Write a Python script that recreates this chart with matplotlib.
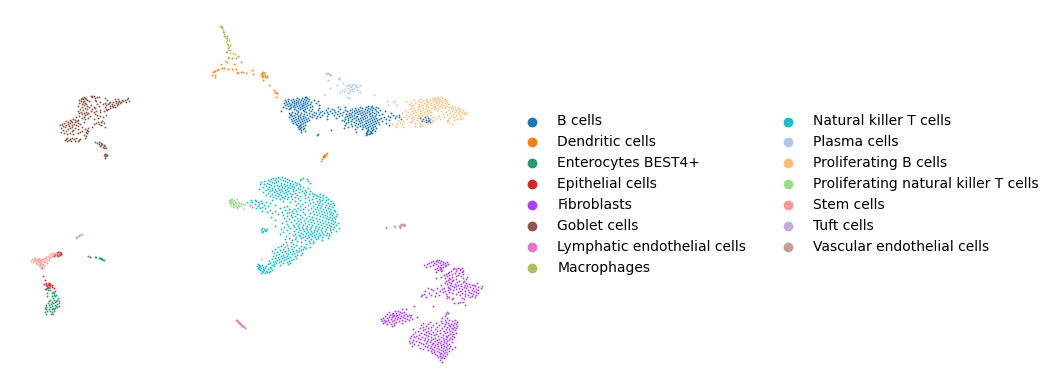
import matplotlib
matplotlib.use("Agg")
import matplotlib.pyplot as plt

b_cells = {
    97: [305, 306], 98: [297, 302, 307], 99: [288, 293, 299, 304, 309],
    100: [285, 291, 296, 301, 306, 314], 101: [288, 294, 298, 303, 308, 318],
    102: [286, 292, 296, 300, 305, 311], 103: [284, 289, 294, 298, 303, 307, 316],
    104: [287, 291, 296, 301, 305, 310], 105: [285, 290, 294, 299, 303, 308, 319],
    106: [288, 293, 297, 302, 306, 312, 368, 372],
    107: [283, 291, 295, 300, 304, 310, 338, 345, 360, 366, 371, 376],
    108: [286, 290, 298, 302, 307, 319, 328, 355, 362, 368, 373, 378],
    109: [289, 294, 300, 305, 312, 332, 340, 352, 358, 365, 370, 375],
    110: [296, 303, 309, 318, 326, 334, 345, 350, 356, 361, 367, 372, 380],
    111: [281, 298, 304, 311, 322, 330, 338, 347, 354, 359, 364, 369, 376, 385],
    112: [292, 298, 306, 314, 320, 327, 335, 343, 352, 357, 362, 367, 372, 378],
    113: [289, 295, 301, 309, 316, 324, 332, 340, 349, 355, 360, 365, 370, 374, 391],
    114: [291, 297, 304, 312, 319, 328, 337, 346, 351, 358, 363, 369, 376, 382],
    115: [290, 294, 300, 307, 314, 322, 334, 342, 349, 354, 361, 366, 372, 379, 393, 399],
    116: [292, 298, 303, 310, 317, 327, 339, 347, 352, 357, 364, 370, 375, 388, 396],
    117: [289, 295, 300, 305, 312, 320, 345, 350, 356, 362, 367, 373, 384, 390, 399, 425],
    118: [293, 298, 303, 308, 316, 336, 348, 354, 360, 365, 371, 376, 381, 395, 420, 428],
    119: [291, 296, 301, 306, 327, 345, 352, 358, 363, 369, 374, 379, 386, 401, 423, 430],
    120: [294, 299, 304, 309, 342, 348, 356, 361, 367, 372, 377, 389, 426, 429],
    121: [292, 297, 302, 307, 344, 351, 359, 365, 370, 375, 382, 422, 428],
    122: [295, 300, 305, 348, 354, 362, 368, 373, 378, 426, 430],
    123: [293, 298, 303, 346, 356, 360, 366, 371, 376, 386],
    124: [296, 301, 351, 358, 364, 369, 374, 379],
    125: [297, 300, 305, 345, 355, 362, 367, 372, 389],
    126: [299, 303, 352, 360, 365, 370, 375],
    127: [298, 301, 348, 357, 363, 368, 373],
    128: [300, 304, 344, 366, 371, 376],
    129: [299, 303, 355, 362, 368, 373],
    130: [301, 331, 368, 372],
    131: [305, 367, 370, 375],
    132: [301, 356, 367, 371],
    133: [366, 370, 372],
    134: [318, 367, 369],
    135: [317, 366],
}
dendritic_cells = {
    56: [238], 58: [228, 232, 236], 62: [227, 241], 64: [221, 234],
    68: [222, 224], 69: [218, 228, 232, 236], 70: [217, 252],
    71: [214, 215], 72: [213, 237, 241, 243, 263], 73: [238, 246, 262, 264],
    74: [253, 261], 75: [212, 215, 262, 265], 76: [263, 267],
    77: [215, 262, 265, 267], 80: [263], 85: [269], 90: [274],
    92: [275], 93: [276, 277], 97: [276], 153: [327], 154: [326],
    155: [324, 325], 156: [323, 325], 157: [323, 324], 159: [322], 161: [321],
}
enterocytes = {
    256: [88], 257: [95, 96], 258: [99, 100, 101], 259: [101, 102], 260: [103, 104],
    288: [49], 289: [45, 46], 290: [48, 50], 292: [53], 293: [47, 52, 54],
    295: [54, 56], 296: [47, 52, 55], 298: [53, 58], 300: [50, 54, 57],
    301: [49, 56, 59], 302: [52, 55], 303: [48, 53, 59], 304: [51, 57],
    305: [46, 49, 55], 306: [52, 56, 59], 307: [46, 50, 57],
    308: [45, 53, 55], 309: [46, 49, 52, 54], 311: [47, 50, 54], 312: [45, 52], 314: [46, 51, 53],
}
epithelial_cells = {
    252: [58, 60], 253: [57, 61], 254: [55, 59, 61], 255: [54, 57, 60],
    256: [54, 58], 257: [90], 268: [42], 276: [43], 280: [45],
    283: [46, 49], 284: [44, 48, 50], 285: [46, 49, 52], 286: [47, 50],
    287: [48, 52], 288: [47, 54], 291: [55],
}
fibroblasts = {
    260: [437, 439], 261: [433, 436, 441], 262: [431, 438, 443, 447],
    263: [429, 434, 440, 445], 264: [427, 436, 443, 448], 265: [424, 433, 441, 446],
    266: [430, 438, 445], 267: [426, 440, 443], 268: [437, 441, 454, 458, 462],
    269: [435, 440, 453, 456, 460], 270: [438, 442, 460], 271: [441, 451, 456, 463],
    272: [436, 449, 462], 273: [448, 455, 459], 274: [446, 452, 463],
    275: [444, 449, 458], 276: [447, 456, 461], 277: [441, 452, 467],
    278: [436, 445, 449, 463], 279: [450, 456, 466], 280: [448, 453],
    281: [446, 452, 459, 464], 282: [449, 457, 463], 283: [445, 451, 466, 477],
    284: [447, 455, 461, 469], 285: [441, 450, 458, 465, 472, 474],
    286: [452, 456, 461, 467, 475, 482], 287: [448, 454, 464, 470, 478],
    288: [428, 437, 444, 449, 459, 466, 473, 481], 289: [431, 442, 450, 456, 462, 476],
    290: [433, 448, 453, 468, 472, 478], 291: [425, 440, 445, 460, 465, 474],
    292: [443, 449, 458, 469, 476], 293: [429, 436, 452, 462, 471, 478],
    294: [424, 446, 456, 465, 473], 295: [422, 431, 439, 460, 468, 476],
    296: [421, 435, 447, 465, 472], 297: [426, 449, 470, 475],
    298: [447, 453, 462], 299: [452, 464], 302: [460, 463], 303: [454, 458],
    305: [465], 306: [433, 414], 309: [406, 402], 311: [395, 398],
    312: [389, 400, 404, 447], 313: [393, 396, 402, 448], 314: [387, 392, 399, 406, 446],
    315: [390, 394, 397, 404, 409, 411], 316: [385, 393, 396, 401, 407, 445],
    317: [389, 392, 398, 403, 410, 417], 318: [383, 387, 395, 400, 405, 442, 447],
    319: [381, 391, 397, 407, 412], 320: [384, 388, 394, 402, 409, 445, 449, 455],
    321: [382, 386, 392, 399, 405, 441, 452], 322: [385, 389, 396, 430, 446, 457],
    323: [383, 394, 402, 423, 436, 442, 448, 454], 324: [387, 391, 428, 445, 451, 456],
    325: [394, 421, 433, 439, 449, 453], 326: [392, 426, 444, 450, 457],
    327: [423, 431, 437, 447, 454], 328: [420, 428, 442, 452, 456],
    329: [413, 425, 435, 446, 449, 453], 330: [423, 431, 440, 455],
    331: [418, 428, 437, 444, 450], 332: [415, 426, 433, 447, 452],
    333: [421, 429, 440, 445, 456], 334: [413, 424, 431, 436, 450, 453],
    335: [419, 426, 434, 443, 448], 336: [411, 416, 428, 438, 446, 452],
    337: [414, 422, 431, 441, 447, 454], 338: [410, 418, 425, 435, 443, 450],
    339: [420, 428, 433, 439, 446, 452], 340: [413, 424, 431, 437, 444, 449],
    341: [409, 416, 427, 435, 441, 447], 342: [412, 419, 430, 438, 444, 452],
    343: [410, 421, 426, 433, 440, 446], 344: [414, 423, 432, 437, 443, 449],
    345: [418, 428, 435, 441, 447], 346: [412, 425, 431, 438, 444, 450],
    347: [427, 434, 441, 446, 455], 348: [420, 430, 437, 443, 449],
    349: [423, 432, 439, 447, 452], 350: [428, 434, 441, 445],
    351: [431, 437, 443, 449], 352: [434, 439, 446], 353: [432, 441, 444],
    354: [435, 440, 447], 355: [437, 443], 356: [440, 445], 357: [438, 442],
    358: [441, 444], 360: [440], 362: [442],
}
goblet_cells = {
    96: [91, 92, 94], 97: [84, 92, 97, 99], 98: [82, 85, 95, 105, 128], 99: [81, 83, 86, 115, 118, 127],
    100: [79, 87, 95, 107, 122, 125], 101: [81, 84, 89, 96, 116, 119, 123, 129],
    102: [83, 100, 110, 113, 118, 121, 126], 103: [79, 85, 105, 109, 116, 120],
    104: [82, 86, 97, 103, 108, 112, 118], 105: [84, 91, 106, 114, 117],
    106: [78, 87, 99, 110, 112], 107: [82, 89, 94, 105, 113, 115],
    108: [85, 95, 110], 109: [80, 87, 92, 106, 108], 110: [83, 100, 107],
    111: [78, 91, 96, 104], 112: [81, 86, 94, 100], 113: [79, 84, 88],
    114: [82, 87, 95], 115: [85, 97, 106], 116: [79, 90, 100],
    117: [76, 84, 103], 118: [82, 88, 98], 119: [73, 85, 94],
    120: [70, 75, 78], 121: [66, 71, 77, 102], 122: [68, 72, 75, 84, 98, 101],
    123: [64, 70, 78, 96, 104], 124: [62, 68, 74, 80, 94, 99], 125: [60, 66, 72, 76, 101],
    126: [63, 69, 78], 127: [65, 72, 82, 92, 105], 128: [61, 70, 75, 88],
    129: [68, 78, 85], 130: [63, 73, 87], 131: [66, 72, 82, 88], 132: [61, 80, 86],
    133: [64, 70, 78, 87], 134: [67, 73], 135: [84], 136: [86],
    138: [67, 72, 76, 85], 139: [66, 70, 74, 80], 140: [65, 69, 79], 141: [67, 71, 75, 78],
    142: [95, 99], 143: [97, 101], 144: [99, 102], 145: [101, 104], 146: [100, 105],
    147: [103], 148: [104, 106], 154: [105, 106], 155: [104, 107], 156: [105, 106], 158: [105],
}
lymphatic_cells = {
    320: [236, 237], 321: [237], 322: [238, 239], 323: [239, 240], 324: [240],
    325: [241, 242], 326: [242, 243], 327: [244], 328: [245],
}
macrophages = {
    26: [220, 221], 27: [221, 222], 28: [222], 30: [223], 32: [223, 224], 34: [224],
    36: [224, 225, 227], 38: [226, 227], 40: [227, 229], 42: [226], 44: [227],
    45: [228, 230], 47: [229], 48: [228], 50: [228, 230], 52: [226, 227],
    53: [230, 233], 54: [235], 57: [229], 61: [225],
}
nk_t_cells = {
    177: [278, 282], 178: [273, 276, 285, 303], 179: [271, 280, 287, 301, 307], 180: [268, 275, 283, 289, 300],
    181: [264, 270, 278, 285, 292, 308], 182: [261, 272, 276, 287, 295],
    183: [267, 274, 281, 290, 297, 310], 184: [260, 264, 269, 284, 293, 299],
    185: [271, 277, 281, 287, 290, 296], 186: [266, 274, 279, 285, 292, 300],
    187: [263, 269, 282, 288, 294, 303], 188: [272, 278, 284, 290, 298, 308],
    189: [259, 268, 275, 281, 287, 293, 300], 190: [266, 272, 279, 285, 296, 305],
    191: [270, 276, 282, 288, 293, 302, 310], 192: [263, 274, 280, 286, 299, 306],
    193: [268, 277, 284, 290, 295, 304, 312], 194: [272, 279, 287, 292, 309, 314, 320],
    195: [266, 275, 281, 297, 305, 316, 323], 196: [270, 278, 285, 291, 300, 313, 318],
    197: [273, 282, 288, 295, 308, 320, 326], 198: [276, 284, 298, 305, 316, 323],
    199: [280, 287, 292, 312, 319, 328], 200: [251, 255, 272, 300, 309, 322, 326],
    201: [256, 261, 283, 295, 317, 320, 331], 202: [247, 252, 258, 266, 290, 305, 313, 325],
    203: [262, 270, 298, 310, 319, 328, 333], 204: [255, 259, 302, 315, 322, 330],
    205: [250, 264, 275, 296, 308, 318, 326, 334], 206: [258, 268, 287, 300, 313, 321, 329],
    207: [252, 262, 284, 305, 317, 325, 332], 208: [256, 260, 265, 280, 298, 311, 320, 328],
    209: [289, 294, 303, 315, 323, 330], 210: [270, 285, 300, 308, 318, 326, 334],
    211: [262, 275, 292, 296, 313, 321, 329, 335], 212: [267, 282, 289, 303, 316, 324, 331],
    213: [272, 287, 293, 310, 319, 327, 333], 214: [278, 297, 305, 314, 322, 330, 337],
    215: [283, 291, 300, 317, 325, 332], 216: [287, 295, 309, 320, 327, 336],
    217: [271, 292, 302, 312, 323, 330, 334], 218: [284, 297, 306, 316, 326, 332],
    219: [289, 300, 310, 319, 328, 335], 220: [275, 294, 304, 313, 322, 331],
    221: [286, 298, 308, 317, 325, 333], 222: [291, 301, 311, 320, 328, 335],
    223: [282, 296, 305, 314, 323, 331, 338], 224: [287, 299, 309, 318, 326, 333],
    225: [293, 303, 312, 321, 329, 336], 226: [275, 288, 298, 307, 316, 324, 331],
    227: [284, 294, 302, 311, 319, 327, 334], 228: [262, 290, 299, 306, 315, 322, 330, 339],
    229: [264, 267, 281, 296, 303, 310, 318, 326, 333], 230: [261, 265, 287, 300, 307, 314, 321, 330],
    231: [263, 266, 294, 304, 311, 317, 325, 336], 232: [262, 283, 298, 308, 314, 322, 331],
    233: [289, 301, 306, 312, 319, 327], 234: [280, 295, 303, 310, 316, 323, 329],
    235: [293, 299, 308, 314, 320, 326], 236: [286, 300, 305, 312, 318, 329],
    237: [296, 303, 309, 315, 322], 238: [289, 301, 307, 318, 328],
    239: [285, 295, 311, 316], 240: [292, 305, 322],
    241: [297, 309, 313], 242: [286, 291, 301], 243: [310, 313],
    244: [283, 293, 306], 245: [287, 296], 246: [281, 291, 301],
    247: [278, 285, 294, 304, 310], 248: [288, 299, 306], 249: [275, 283, 292, 303],
    250: [280, 288, 296, 301], 251: [272, 285, 293, 299], 252: [277, 282, 290, 297],
    253: [274, 286, 294, 302], 254: [279, 288, 292], 255: [276, 283, 297, 301],
    256: [273, 281, 287, 295], 257: [278, 284, 290], 258: [275, 282, 288, 296],
    259: [272, 279, 286, 293], 260: [277, 284, 291], 261: [269, 275, 281, 289],
    262: [273, 279, 287], 263: [270, 276, 283, 290], 264: [258, 268, 274, 288],
    265: [259, 262, 272, 280], 266: [257, 260, 266, 274], 267: [259, 263, 270],
    268: [258, 261, 265, 271], 269: [259, 263, 268], 270: [260, 264, 272],
    271: [262, 266, 270], 272: [263, 267, 269], 273: [261, 265],
}
plasma_cells = {
    73: [326, 328], 74: [327, 329], 75: [330, 331], 78: [338, 340], 79: [339],
    80: [328], 83: [343], 84: [349, 353], 85: [337, 348, 352, 355, 360],
    86: [346, 350, 356], 87: [351, 358], 88: [330, 348, 354], 89: [345, 352],
    90: [342, 350, 357], 91: [344, 353], 92: [340, 349, 360], 93: [348],
    95: [324, 374], 97: [347], 98: [349], 101: [387], 105: [388],
}
proliferating_b = {
    97: [437, 441], 98: [432, 435, 442], 99: [420, 426, 434, 438, 445],
    100: [414, 423, 430, 436, 440, 446], 101: [395, 406, 418, 426, 433, 439, 444],
    102: [393, 411, 421, 428, 436, 442, 447], 103: [415, 424, 431, 438, 445],
    104: [409, 419, 427, 434, 441, 448], 105: [396, 413, 422, 430, 437, 443],
    106: [411, 418, 426, 433, 440, 446, 452], 107: [420, 428, 435, 442, 449, 455],
    108: [413, 423, 431, 438, 445, 451, 458], 109: [410, 418, 426, 434, 453, 460],
    110: [405, 415, 422, 429, 437, 449, 456, 463], 111: [412, 420, 427, 441, 452, 459],
    112: [408, 416, 424, 431, 446, 455, 462, 466], 113: [402, 413, 420, 428, 450, 458, 464],
    114: [411, 418, 425, 443, 453, 461, 465], 115: [406, 415, 422, 431, 447, 456],
    116: [409, 419, 427, 439, 451, 460], 117: [404, 413, 421, 433, 444, 454],
    118: [411, 417, 426, 436, 449, 462], 119: [407, 414, 430, 440, 457, 460],
    120: [398, 417, 421, 433, 448, 454], 121: [403, 412, 424, 447], 122: [400, 410, 419, 432, 449],
    123: [397, 415, 428], 124: [392, 402, 420, 452], 125: [396, 422],
    126: [415, 420], 127: [396, 403],
}
proliferating_nk = {
    199: [231, 232, 237], 200: [229, 231, 234], 201: [230, 232], 202: [229, 231, 235, 238, 250],
    203: [231, 233, 236, 239, 241], 204: [230, 234, 243, 245], 205: [233, 238, 241],
    206: [231, 236, 239], 207: [233, 237], 208: [237], 209: [243], 259: [261],
}
stem_cells = {
    253: [52, 56], 254: [50, 54, 58], 255: [53], 256: [48, 52], 257: [46, 50],
    258: [35, 39, 45, 49], 259: [32, 35, 38, 41, 43, 47], 260: [34, 37, 40, 44, 49],
    261: [31, 36, 39, 42, 46], 262: [33, 38, 41, 44], 263: [36, 40, 47],
    264: [37, 40, 43], 265: [39, 42], 266: [40, 44], 268: [41],
}
tuft_cells = {
    234: [82, 81], 235: [80, 79], 236: [79, 78], 237: [77, 76], 238: [76],
}
vascular_cells = {
    224: [401, 402, 404], 225: [400, 403, 405], 226: [394, 399, 401, 404],
    227: [386, 395, 400], 228: [386, 400],
}

cell_types = [
    "B cells", "Dendritic cells", "Enterocytes BEST4+", "Epithelial cells",
    "Fibroblasts", "Goblet cells", "Lymphatic endothelial cells", "Macrophages",
    "Natural killer T cells", "Plasma cells", "Proliferating B cells",
    "Proliferating natural killer T cells", "Stem cells", "Tuft cells",
    "Vascular endothelial cells",
]
clusters = [
    b_cells, dendritic_cells, enterocytes, epithelial_cells, fibroblasts,
    goblet_cells, lymphatic_cells, macrophages, nk_t_cells, plasma_cells,
    proliferating_b, proliferating_nk, stem_cells, tuft_cells, vascular_cells,
]
palette = [
    "#1f77b4", "#ff7f0e", "#279e68", "#d62728", "#aa40fc", "#8c564b", "#e377c2",
    "#b5bd61", "#17becf", "#aec7e8", "#ffbb78", "#98df8a", "#ff9896", "#c5b0d5",
    "#c49c94",
]

fig = plt.figure(figsize=(10.54, 3.89), dpi=100)
ax = fig.add_axes([16 / 1054, 1 - 372 / 389, 490 / 1054, 355 / 389])

for name, rows, color in zip(cell_types, clusters, palette):
    xs = [x for y, row in rows.items() for x in row]
    ys = [y for y, row in rows.items() for x in row]
    ax.scatter(xs, ys, s=1.8, c=color, linewidths=0)
    ax.scatter([], [], s=50, c=color, linewidths=0, label=name)

ax.set_xlim(16, 506)
ax.set_ylim(372, 17)
ax.set_axis_off()
ax.legend(loc="center left", bbox_to_anchor=(1, 0.5), ncol=2, frameon=False, fontsize=10)

fig.savefig("out.png", dpi=100)
